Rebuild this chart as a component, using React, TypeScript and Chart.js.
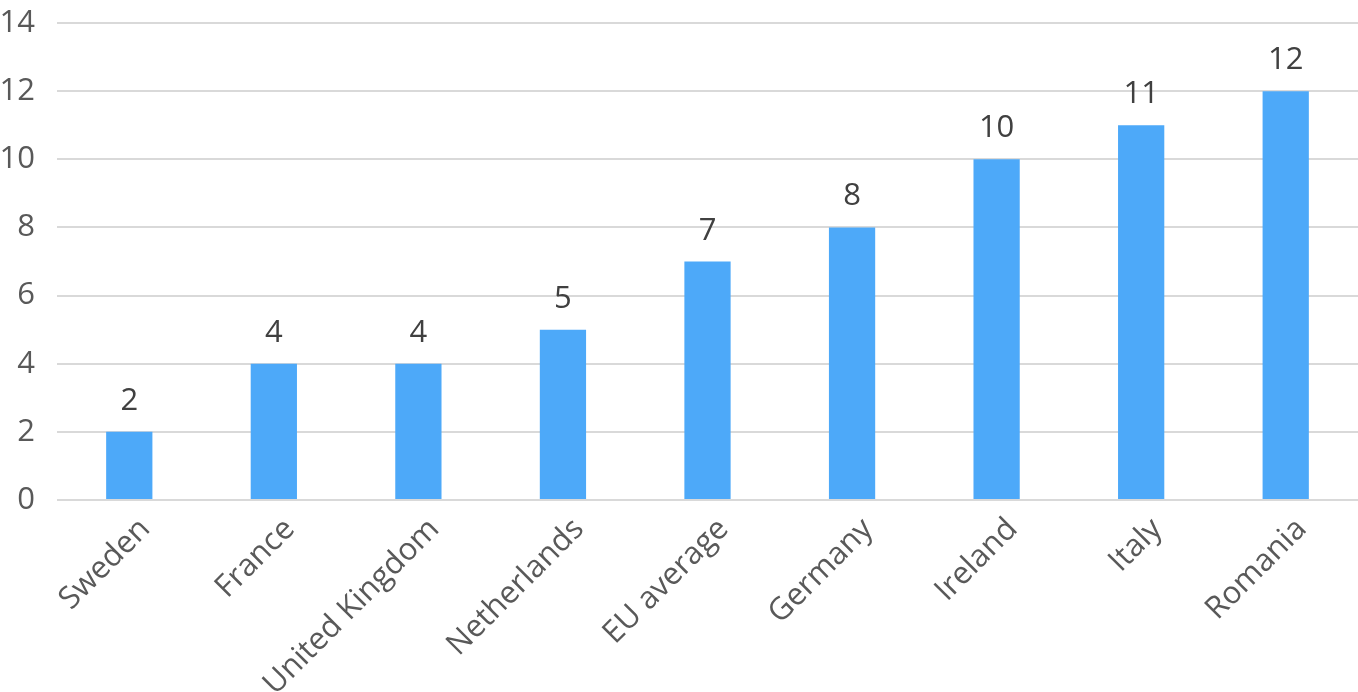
import React, { useEffect, useRef } from "react";
import { Chart, registerables } from "chart.js";

Chart.register(...registerables);

const categories = ["Sweden", "France", "United Kingdom", "Netherlands", "EU average", "Germany", "Ireland", "Italy", "Romania"];
const values = [2, 4, 4, 5, 7, 8, 10, 11, 12];
const yTicks = [0, 2, 4, 6, 8, 10, 12, 14];

const FONT = "'Open Sans', sans-serif";
const SIZE = 31;

const dataLabels = {
  id: "dataLabels",
  afterDatasetsDraw(chart: any) {
    const ctx = chart.ctx;
    const meta = chart.getDatasetMeta(0);
    ctx.save();
    ctx.font = `${SIZE}px ${FONT}`;
    ctx.fillStyle = "#404040";
    ctx.textAlign = "center";
    ctx.textBaseline = "alphabetic";
    meta.data.forEach((bar: any, i: number) => {
      ctx.fillText(String(values[i]), bar.x, bar.y - 22);
    });
    ctx.restore();
  },
};

export default function App() {
  const ref = useRef<HTMLCanvasElement>(null);
  useEffect(() => {
    const chart = new Chart(ref.current!, {
      type: "bar",
      data: {
        labels: categories,
        datasets: [
          {
            data: values,
            backgroundColor: "#4DA9F9",
            barPercentage: 0.32,
            categoryPercentage: 1,
          },
        ],
      },
      options: {
        responsive: false,
        animation: false,
        layout: { padding: { top: 0, right: 0, left: 0, bottom: 0 } },
        plugins: { legend: { display: false }, tooltip: { enabled: false } },
        scales: {
          x: {
            grid: { display: false },
            border: { display: false },
            ticks: {
              color: "#595959",
              font: { family: FONT, size: SIZE },
              minRotation: 45,
              maxRotation: 45,
              autoSkip: false,
              padding: 3,
              labelOffset: 16,
            },
            afterFit(scale: any) {
              scale.height = 192;
            },
          },
          y: {
            min: 0,
            max: 14,
            afterBuildTicks(scale: any) {
              scale.ticks = yTicks.map((v) => ({ value: v }));
            },
            grid: { color: "#D9D9D9", lineWidth: 2, drawTicks: false },
            border: { display: false },
            ticks: {
              color: "#595959",
              font: { family: FONT, size: SIZE },
              padding: 22,
            },
            afterFit(scale: any) {
              scale.width = 57;
              scale.paddingTop = 23;
            },
          },
        },
      },
      plugins: [dataLabels],
    });
    return () => chart.destroy();
  }, []);
  return (
    <div style={{ position: "fixed", left: 0, top: 0, width: 1358, height: 692, background: "#fff" }}>
      <canvas ref={ref} width={1358} height={692} />
    </div>
  );
}
